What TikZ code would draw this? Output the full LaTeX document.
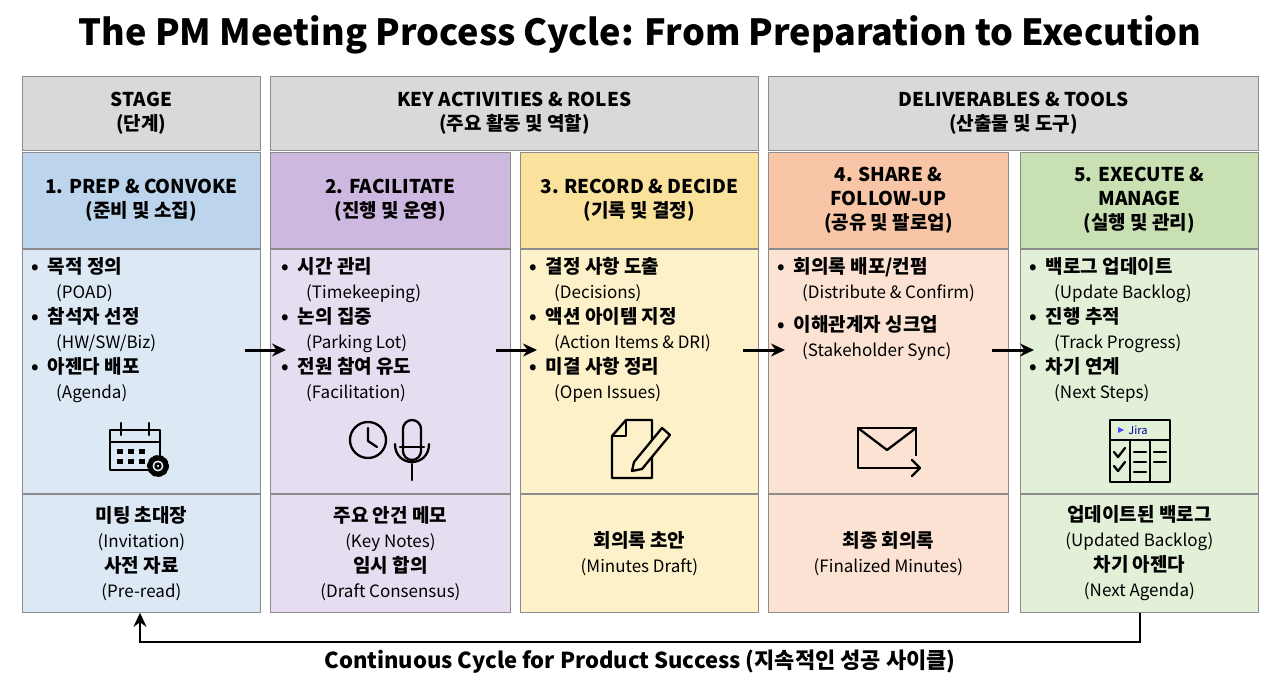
\documentclass[tikz,border=0pt]{standalone}
\usepackage{fontspec}
\setmainfont{Noto Sans CJK KR}
\usetikzlibrary{arrows.meta,positioning}
\definecolor{hd}{HTML}{D9D9D9}
\definecolor{bT}{HTML}{BCD5EC}\definecolor{bB}{HTML}{DCE9F5}
\definecolor{pT}{HTML}{CDB9E0}\definecolor{pB}{HTML}{E6DDF1}
\definecolor{yT}{HTML}{FBE29C}\definecolor{yB}{HTML}{FDF1CA}
\definecolor{oT}{HTML}{F8C6A6}\definecolor{oB}{HTML}{FBE2D3}
\definecolor{gT}{HTML}{C8E0B2}\definecolor{gB}{HTML}{E3F0D8}
\tikzset{
 cell/.style={draw=black!45,line width=0.8pt,anchor=north west,inner sep=0pt,align=center},
 ttl/.style={font=\fontsize{19}{24}\selectfont\bfseries},
 bl/.style={font=\fontsize{19}{25}\selectfont\bfseries},
 flow/.style={-{Stealth[length=14pt,width=13pt]},line width=3pt},
 icon/.style={line width=2.3pt,line join=round,line cap=round}
}
\newcommand{\en}{\fontsize{17}{24}\selectfont\mdseries}
\newcommand{\bul}[2]{\textbullet\ \ #1\\\hspace*{1.3em}{\en #2}}
\begin{document}
\begin{tikzpicture}[x=1pt,y=-1pt]
\fill[white] (0,0) rectangle (1280,698);
\useasboundingbox (0,0) rectangle (1280,698);
\node[font=\fontsize{36}{40}\selectfont\bfseries] (title) at (640,35) {The PM Meeting Process Cycle: From Preparation to Execution};
% headers
\node[cell,fill=hd,minimum width=238,minimum height=74,ttl] (h1) at (22,76) {STAGE\\(단계)};
\node[cell,fill=hd,minimum width=488,minimum height=74,ttl] (h2) at (270,76) {KEY ACTIVITIES \& ROLES\\(주요 활동 및 역할)};
\node[cell,fill=hd,minimum width=490,minimum height=74,ttl] (h3) at (768,76) {DELIVERABLES \& TOOLS\\(산출물 및 도구)};
% columns
\foreach \n/\x/\w/\ct/\cb in {1/22/238/bT/bB,2/270/240/pT/pB,3/520/238/yT/yB,4/768/240/oT/oB,5/1020/238/gT/gB}{
 \node[cell,fill=\ct,minimum width=\w,minimum height=96] (t\n) at (\x,152) {};
 \node[cell,fill=\cb,minimum width=\w,minimum height=244] (m\n) at (\x,249) {};
 \node[cell,fill=\cb,minimum width=\w,minimum height=118] (b\n) at (\x,494) {};
}
\node[ttl,align=center] at (t1.center) {1. PREP \& CONVOKE\\(준비 및 소집)};
\node[ttl,align=center] at (t2.center) {2. FACILITATE\\(진행 및 운영)};
\node[ttl,align=center] at (t3.center) {3. RECORD \& DECIDE\\(기록 및 결정)};
\node[ttl,align=center] at (t4.center) {4. SHARE \&\\FOLLOW-UP\\(공유 및 팔로업)};
\node[ttl,align=center] at (t5.center) {5. EXECUTE \&\\MANAGE\\(실행 및 관리)};
% bullets
\node[bl,align=left,anchor=north west] at (28,254) {\bul{목적 정의}{(POAD)}\\\bul{참석자 선정}{(HW/SW/Biz)}\\\bul{아젠다 배포}{(Agenda)}};
\node[bl,align=left,anchor=north west] at (278,254) {\bul{시간 관리}{(Timekeeping)}\\\bul{논의 집중}{(Parking Lot)}\\\bul{전원 참여 유도}{(Facilitation)}};
\node[bl,align=left,anchor=north west] at (526,254) {\bul{결정 사항 도출}{(Decisions)}\\\bul{액션 아이템 지정}{(Action Items \& DRI)}\\\bul{미결 사항 정리}{(Open Issues)}};
\node[bl,align=left,anchor=north west] at (774,254) {\bul{회의록 배포/컨펌}{(Distribute \& Confirm)}\\[8pt]\bul{이해관계자 싱크업}{(Stakeholder Sync)}};
\node[bl,align=left,anchor=north west] at (1026,254) {\bul{백로그 업데이트}{(Update Backlog)}\\\bul{진행 추적}{(Track Progress)}\\\bul{차기 연계}{(Next Steps)}};
% bottom
\node[bl,align=center] at (b1.center) {미팅 초대장\\{\en (Invitation)}\\사전 자료\\{\en (Pre-read)}};
\node[bl,align=center] at (b2.center) {주요 안건 메모\\{\en (Key Notes)}\\임시 합의\\{\en (Draft Consensus)}};
\node[bl,align=center] at (b3.center) {회의록 초안\\{\en (Minutes Draft)}};
\node[bl,align=center] at (b4.center) {최종 회의록\\{\en (Finalized Minutes)}};
\node[bl,align=center] at (b5.center) {업데이트된 백로그\\{\en (Updated Backlog)}\\차기 아젠다\\{\en (Next Agenda)}};
% icons
\begin{scope}[icon]
 \draw (110,430) rectangle (160,470); \draw (110,442) -- (160,442);
 \draw (121,423) -- (121,435) (149,423) -- (149,435);
 \foreach \i in {0,1,2}{\foreach \j in {0,1}{\fill (117+\i*11,449+\j*10) rectangle (123+\i*11,454+\j*10);}}
 \draw[fill=bB,line width=4pt,dash pattern=on 3pt off 2.5pt] (158,466) circle (9);
 \draw[fill=bB,line width=2pt] (158,466) circle (6.5); \draw (158,466) circle (2.5);
 \draw (368,440) circle (18); \draw (368,428) -- (368,441) -- (377,447);
 \draw[rounded corners=9pt] (403,420) rectangle (421,460);
 \draw (400,447) -- (424,447);
 \draw (395,444) .. controls (395,468) and (429,468) .. (429,444);
 \draw (412,464) -- (412,480);
 \draw (612,436) -- (626,420) -- (652,420) -- (652,478) -- (612,478) -- cycle; \draw (612,436) -- (626,436) -- (626,420);
 \draw[fill=yB] (634,462) -- (662,428) -- (670,435) -- (642,469) -- (632,471) -- cycle;
 \draw (858,428) rectangle (916,468); \draw (858,428) -- (887,450) -- (916,428);
 \fill[oB] (898,456) rectangle (928,480);
 \draw (896,468) -- (920,468); \draw (912,460) -- (920,468) -- (912,476);
 \draw[line width=1.8pt] (1110,420) rectangle (1170,482); \draw[line width=1.8pt] (1110,440) -- (1170,440);
 \draw[line width=1.8pt] (1130,440) -- (1130,482) (1150,440) -- (1150,482);
 \fill[blue!70] (1118,427) -- (1124,430) -- (1118,433) -- cycle;
 \node[font=\fontsize{11}{12}\selectfont,text=blue!60!black] at (1138,430) {Jira};
 \draw (1114,452) -- (1118,457) -- (1125,448);
 \draw (1114,466) -- (1118,471) -- (1125,462);
 \draw (1134,452) -- (1146,452) (1134,462) -- (1146,462) (1154,452) -- (1166,452) (1154,462) -- (1166,462) (1134,472) -- (1146,472);
\end{scope}
\draw[flow] (245,350) -- (286,350);
\draw[flow] (496,350) -- (537,350);
\draw[flow] (743,350) -- (785,350);
\draw[flow] (992,350) -- (1034,350);
\coordinate (c1) at (1140,642); \coordinate (c2) at (140,642);
\draw[flow,line width=2.3pt] (b5.south -| 1140,612) -- (c1) -- (c2) -- (b1.south -| 140,612);
\node[font=\fontsize{22}{26}\selectfont\bfseries] (cl) at (640,662) {Continuous Cycle for Product Success (지속적인 성공 사이클)};
\end{tikzpicture}
\end{document}
